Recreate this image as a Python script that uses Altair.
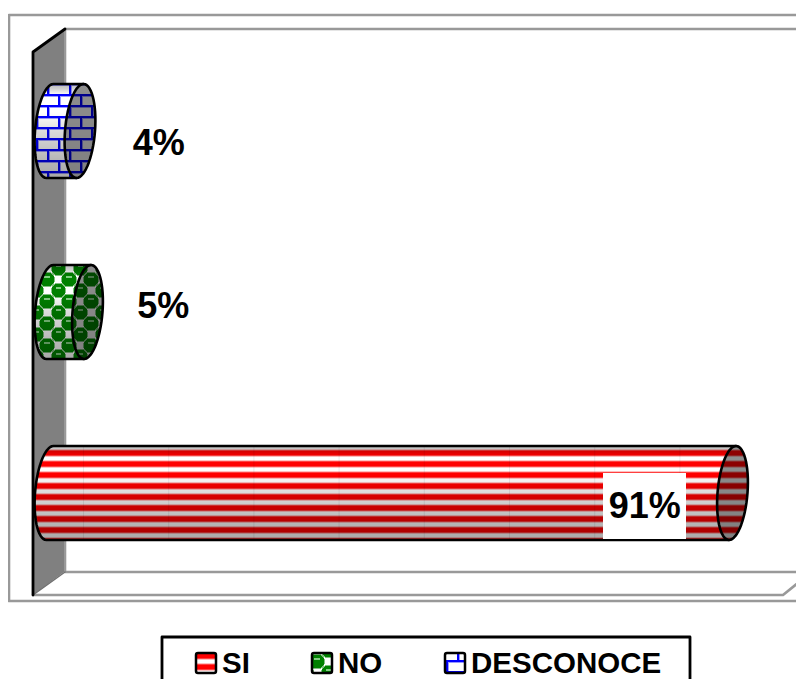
import math
import altair as alt
import pandas as pd

alt.data_transformers.disable_max_rows()

# ---- chart values
categories = ["SI", "NO", "DESCONOCE"]
percentages = [91, 5, 4]
labels = ["91%", "5%", "4%"]

# ---- scale set-up: one percent = 7.5 px, one category slot = 181 px
W, H = 788, 671
PX_PER_PCT = 7.5
PX_PER_SLOT = 181.0
ZERO_X = 50 - 8          # position of 0 % inside the plot
FIRST_Y = 493 - 8        # centre of the first category inside the plot
X_DOMAIN = [(0 - ZERO_X) / PX_PER_PCT, (W - ZERO_X) / PX_PER_PCT]
Y_DOMAIN = [(FIRST_Y - H) / PX_PER_SLOT, FIRST_Y / PX_PER_SLOT]
xs = alt.Scale(domain=X_DOMAIN, nice=False, zero=False, padding=0)
ys = alt.Scale(domain=Y_DOMAIN, nice=False, zero=False, padding=0)


def ux(page_x):
    return (page_x - 8 - ZERO_X) / PX_PER_PCT


def uy(page_y):
    return (FIRST_Y - (page_y - 8)) / PX_PER_SLOT


def X(f, **k):
    return alt.X(f, type="quantitative", scale=xs, axis=None, **k)


def Y(f, **k):
    return alt.Y(f, type="quantitative", scale=ys, axis=None, **k)


# ---- textures
def mix(a, b, t):
    return tuple(a[i] * t + b[i] * (1 - t) for i in range(3))


WHITE = (255, 255, 255)
RED = (255, 0, 0)
GREEN = (0, 128, 0)
LGREEN = (130, 205, 130)
BLUE = (0, 0, 255)
STRIPE = [0.75, 1, 1, 1, 1, 0.75, 0.25, 0, 0, 0, 0.25]


def stripes(x, y):
    return mix(RED, WHITE, STRIPE[(y - 450) % 11])


def checks(x, y):
    u, v = (x - 36) % 22, (y - 4) % 22
    for cx, cy in ((0, 0), (22, 0), (0, 22), (22, 22), (11, 11)):
        du, dv = u - cx + 0.5 * (1 if cx == 0 else -1 if cx == 22 else 1), v - cy
        d = abs(du) ** 2.4 + abs(dv) ** 2.4
        if d < 7.0 ** 2.4:
            if abs(du) < 2.6 and -3.6 < dv < -1.6:
                return LGREEN
            return GREEN
        if d < 7.8 ** 2.4:
            return mix(GREEN, WHITE, 0.5)
    return WHITE


def bricks(x, y):
    yy = y - 6
    course = yy // 11
    if yy % 11 < 2:
        return BLUE
    px = (x - 36 + 11 * (course % 2)) % 22
    if px < 2:
        return BLUE
    if yy % 11 == 2 or px == 2:
        return mix(BLUE, WHITE, 0.4)
    return WHITE


TEXTURE = {"SI": stripes, "NO": checks, "DESCONOCE": bricks}
SHADE_T = [0, 0.05, 0.12, 0.3, 0.5, 0.8, 1]
SHADE_V = [0.72, 0.82, 1.0, 1.0, 0.86, 0.72, 0.66]


def shade(t):
    for i in range(len(SHADE_T) - 1):
        if t <= SHADE_T[i + 1]:
            f = (t - SHADE_T[i]) / (SHADE_T[i + 1] - SHADE_T[i])
            return SHADE_V[i] + f * (SHADE_V[i + 1] - SHADE_V[i])
    return SHADE_V[-1]


def hexc(c, k=1.0):
    return "#%02x%02x%02x" % tuple(int(round(max(0, min(255, v * k)))) for v in c)


cells, outlines = [], []
RY, RX, SHEAR = 47, 15, -3.5
LEFT_CX = 50

for i, (cat, v) in enumerate(zip(categories, percentages)):
    cy = 493 - i * PX_PER_SLOT
    cap_cx = 50 + v * PX_PER_PCT
    tex = TEXTURE[cat]
    for row in range(int(cy - RY), int(cy + RY)):
        s = (row + 0.5 - cy) / RY
        if abs(s) >= 1:
            continue
        ch = math.sqrt(1 - s * s)
        t = (row + 0.5 - (cy - RY)) / (2 * RY)
        x0 = round(LEFT_CX + SHEAR * s - RX * ch)
        x1 = round(cap_cx + SHEAR * s - RX * ch)
        x2 = round(cap_cx + SHEAR * s + RX * ch)
        for k0, a, b in ((shade(t), x0, x1), (0.5 + 0.06 * (1 - t), x1, x2)):
            run, col = a, None
            for x in range(a, b + 1):
                c = hexc(tex(x, row), k0) if x < b else None
                if c != col:
                    if col is not None:
                        cells.append({"x": ux(run), "x2": ux(x), "y": uy(row),
                                      "y2": uy(row + 1), "c": col})
                    run, col = x, c
    # outline: left arc, top edge, cap right arc, bottom edge
    pts = []
    for a in range(90, 271, 6):      # left arc from bottom to top
        th = math.radians(a)
        pts.append((LEFT_CX + RX * math.cos(th) + SHEAR * math.sin(th), cy + RY * math.sin(th)))
    for a in range(-90, 91, 6):      # cap outer arc from top to bottom
        th = math.radians(a)
        pts.append((cap_cx + RX * math.cos(th) + SHEAR * math.sin(th), cy + RY * math.sin(th)))
    pts.append(pts[0])
    for o, (px, py) in enumerate(pts):
        outlines.append({"id": cat + "a", "o": o, "x": ux(px), "y": uy(py), "c": "#000000", "w": 2.6})
    for o, a in enumerate(range(90, 271, 6)):   # visible inner edge of the cap
        th = math.radians(a)
        outlines.append({"id": cat + "b", "o": o,
                         "x": ux(cap_cx + RX * math.cos(th) + SHEAR * math.sin(th)),
                         "y": uy(cy + RY * math.sin(th)), "c": "#000000", "w": 2.6})

# faint gridlines showing through the long bar
grid = pd.DataFrame([
    {"x": ux(83 + 85.2 * k), "x2": ux(84 + 85.2 * k), "y": uy(447), "y2": uy(539)}
    for k in range(8)
])

# ---- frame
GREY = "#999999"
frame_paths = [
    ("outer", GREY, 2.6, [(804, 15), (9, 15), (9, 601), (804, 601)]),
    ("back", GREY, 2.6, [(804, 29), (65, 29), (65, 572), (804, 572)]),
    ("floor", GREY, 2.6, [(33, 595), (783, 595), (804, 578)]),
    ("walldiag", "#707070", 1.5, [(33, 595), (65, 572)]),
    ("wallleft", "#000000", 2.8, [(65, 29), (33, 52), (33, 595)]),
    ("legend", "#000000", 2.8, [(162, 690), (162, 637), (690, 637), (690, 690)]),
]
lines = []
for name, col, w, pts in frame_paths:
    for o, (px, py) in enumerate(pts):
        lines.append({"id": name, "o": o, "x": ux(px), "y": uy(py), "c": col, "w": w})

wall = pd.DataFrame([
    {"x": ux(33), "y": uy(52), "y2": uy(595)},
    {"x": ux(64), "y": uy(29), "y2": uy(572)},
])

# ---- legend
swatch_cells, swatch_box = [], []
for cat, sx in zip(categories, (196, 312, 445)):
    tex = TEXTURE[cat]
    for row in range(653, 673):
        for x in range(sx, sx + 20):
            if cat == "SI":
                c = tex(x, row + (450 - 653) + 11 * 19)
            elif cat == "NO":
                c = checks(x - sx + 36 + 6, row - 653 + 4 + 3)
            else:
                c = bricks(x - sx + 36 + 10, row - 653 + 6 + 4)
            swatch_cells.append({"x": ux(x), "x2": ux(x + 1), "y": uy(row),
                                 "y2": uy(row + 1), "c": hexc(c)})
    swatch_box.append({"x": ux(sx), "x2": ux(sx + 20), "y": uy(653), "y2": uy(673)})

legend_text = pd.DataFrame({
    "x": [ux(222), ux(338), ux(471)],
    "y": [uy(664)] * 3,
    "t": categories,
})

# ---- data labels
label_offset_pct = {"SI": -11.7, "NO": 15.1 - 5, "DESCONOCE": 14.5 - 4}
label_offset_px = {"SI": 14, "NO": -5, "DESCONOCE": 13}
label_df = pd.DataFrame({
    "x": [v + label_offset_pct[c] for c, v in zip(categories, percentages)],
    "y": [i - label_offset_px[c] / PX_PER_SLOT for i, c in enumerate(categories)],
    "t": labels,
})
si_box = pd.DataFrame([{
    "x": ux(603),
    "x2": ux(686),
    "y": uy(473), "y2": uy(539),
}])

FONT = "Liberation Sans"


def line_layer(rows):
    return alt.Chart(pd.DataFrame(rows)).mark_line(strokeCap="round", strokeJoin="round", clip=True).encode(
        x=X("x"), y=Y("y"), detail="id:N", order="o:Q",
        color=alt.Color("c:N", scale=None),
        strokeWidth=alt.StrokeWidth("w:Q", scale=None),
    )


def cell_layer(rows):
    return alt.Chart(pd.DataFrame(rows)).mark_rect(strokeWidth=0).encode(
        x=X("x"), x2="x2", y=Y("y"), y2="y2",
        color=alt.Color("c:N", scale=None),
    )


wall_layer = alt.Chart(wall).mark_area(color="#808080").encode(x=X("x"), y=Y("y"), y2="y2")
grid_layer = alt.Chart(grid).mark_rect(color="#000000", opacity=0.08, strokeWidth=0).encode(
    x=X("x"), x2="x2", y=Y("y"), y2="y2"
)
white_box = alt.Chart(si_box).mark_rect(color="#ffffff").encode(x=X("x"), x2="x2", y=Y("y"), y2="y2")
label_layer = alt.Chart(label_df).mark_text(
    font=FONT, fontWeight="bold", fontSize=36, align="center", baseline="middle", color="#000000"
).encode(x=X("x"), y=Y("y"), text="t:N")
legend_layer = alt.Chart(legend_text).mark_text(
    font=FONT, fontWeight="bold", fontSize=29.5, align="left", baseline="middle", color="#000000"
).encode(x=X("x"), y=Y("y"), text="t:N")
box_layer = alt.Chart(pd.DataFrame(swatch_box)).mark_rect(
    fillOpacity=0, stroke="#000000", strokeWidth=2.5, cornerRadius=2
).encode(x=X("x"), x2="x2", y=Y("y"), y2="y2")

chart = alt.layer(
    line_layer([r for r in lines if r["id"] in ("outer", "back", "floor")]),
    wall_layer,
    line_layer([r for r in lines if r["id"] not in ("outer", "back", "floor")]),
    cell_layer(cells),
    grid_layer,
    line_layer(outlines),
    white_box,
    label_layer,
    cell_layer(swatch_cells),
    box_layer,
    legend_layer,
).properties(
    width=W, height=H, padding=0,
    autosize=alt.AutoSizeParams(type="none"),
    background="#ffffff",
).configure_view(stroke=None)

chart.save("out.html", embed_options={"renderer": "svg", "actions": False})
